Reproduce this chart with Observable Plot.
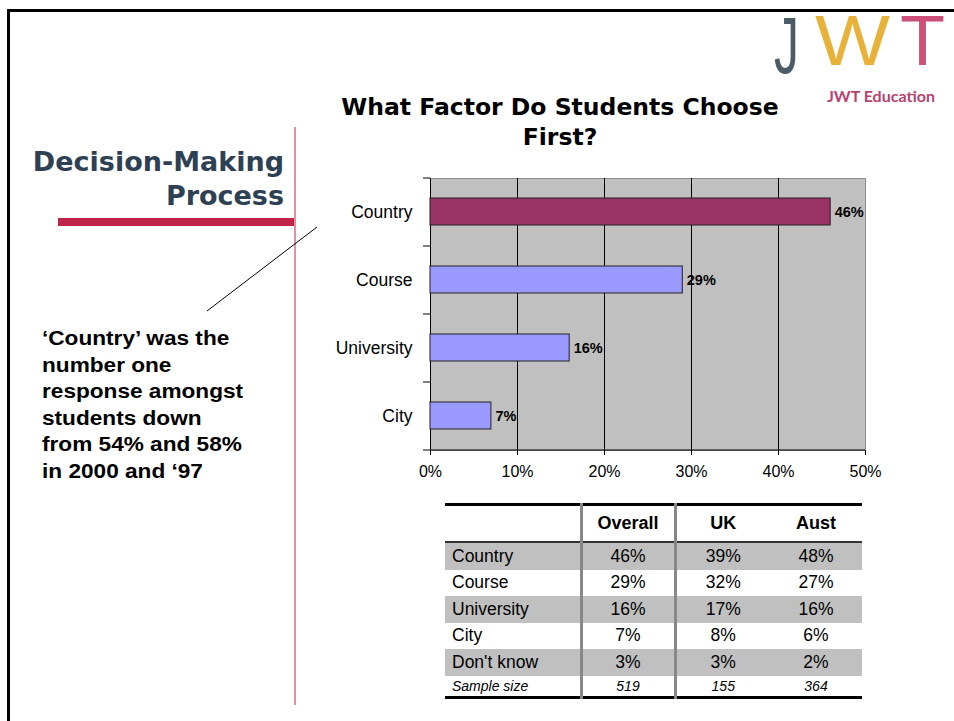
<!DOCTYPE html>
<html>
<head>
<meta charset="utf-8">
<script src="https://cdn.jsdelivr.net/npm/d3@7"></script>
<script src="https://cdn.jsdelivr.net/npm/@observablehq/plot@0.6"></script>
<style>
  html, body { margin: 0; padding: 0; background: #fff; }
  #slide { position: relative; width: 954px; height: 721px; overflow: hidden; background: #fff; font-family: Arial, "Liberation Sans", sans-serif; }
  .abs { position: absolute; }
  #border { left: 7px; top: 9px; width: 960px; height: 720px; border-top: 3px solid #000; border-left: 3px solid #000; }
  #title { left: 330px; top: 92px; width: 460px; text-align: center; font-family: "DejaVu Sans", Verdana, sans-serif; font-weight: bold; font-size: 23.5px; line-height: 30px; color: #000; }
  #section { left: 10px; top: 145px; width: 274px; text-align: right; font-family: "DejaVu Sans", Verdana, sans-serif; font-weight: bold; font-size: 27px; line-height: 34px; color: #2e4053; }
  #redbar { left: 58px; top: 218px; width: 238px; height: 8px; background: #c0234a; }
  #pinkline { left: 294px; top: 127px; width: 2px; height: 578px; background: #e0909f; }
  #note { left: 42px; top: 325px; font-weight: bold; font-size: 19.5px; line-height: 26.6px; color: #000; white-space: nowrap; transform: scaleX(1.16); transform-origin: 0 0; }
  #chart { left: 330px; top: 170px; }
  #logo { left: 770px; top: 0px; }
  #logo text.big { font-family: "Liberation Sans", Arial, sans-serif; }
  #logo text.small { font-family: Lato, "Open Sans", sans-serif; }
  #tbl { left: 445px; top: 503px; border-collapse: collapse; font-size: 17.5px; color: #000; table-layout: fixed; }
  #tbl td, #tbl th { padding: 0; height: 26.5px; }
  #tbl th { font-weight: bold; font-size: 18px; height: 35px; text-align: center; }
  #tbl td.lab { text-align: left; padding-left: 7px; }
  #tbl td.num { text-align: center; }
  #tbl tr.shade td { background: #c0c0c0; }
  #tbl tr.sample td { font-style: italic; font-size: 14px; height: 20px; }
</style>
</head>
<body>
<div id="slide">
  <div id="border" class="abs"></div>
  <svg id="logo" class="abs" width="184" height="112">
    <g transform="translate(4,0) scale(1,1.15)">
      <text class="big" x="0" y="63.9" font-size="70" fill="#4c5b68" textLength="25" lengthAdjust="spacingAndGlyphs">J</text>
    </g>
    <text class="big" x="45" y="65" font-size="70" fill="#e8b23a" textLength="75" lengthAdjust="spacingAndGlyphs">W</text>
    <text class="big" x="130" y="65" font-size="70" fill="#cc4f78" textLength="45" lengthAdjust="spacingAndGlyphs">T</text>
    <text class="small" x="57" y="102" font-size="16" font-weight="700" fill="#b8426e">JWT Education</text>
  </svg>
  <div id="title" class="abs">What Factor Do Students Choose<br>First?</div>
  <div id="section" class="abs">Decision-Making<br>Process</div>
  <div id="redbar" class="abs"></div>
  <div id="pinkline" class="abs"></div>
  <svg class="abs" style="left:0;top:0;" width="954" height="721"><line x1="207" y1="311" x2="317" y2="227" stroke="#000" stroke-width="1"/></svg>
  <div id="note" class="abs">‘Country’ was the<br>number one<br>response amongst<br>students down<br>from 54% and 58%<br>in 2000 and ‘97</div>
  <div id="chart" class="abs"></div>
  <table id="tbl" class="abs"></table>
</div>
<script>
// ---- Chart data ----
const categories = ["Country", "Course", "University", "City"];
const overallShare = [0.46, 0.29, 0.16, 0.07];
const barColors = ["#993366", "#9999ff", "#9999ff", "#9999ff"];
const xTicks = [0, 0.1, 0.2, 0.3, 0.4, 0.5];

// ---- Table data ----
const tableHeaders = ["", "Overall", "UK", "Aust"];
const tableRows = ["Country", "Course", "University", "City", "Don't know"];
const tableOverall = ["46%", "29%", "16%", "7%", "3%"];
const tableUK = ["39%", "32%", "17%", "8%", "3%"];
const tableAust = ["48%", "27%", "16%", "6%", "2%"];
const sampleLabel = "Sample size";
const sampleSizes = ["519", "155", "364"];

const pct = d3.format(".0%");
const data = categories.map((c, i) => ({category: c, value: overallShare[i], color: barColors[i]}));
const last = categories[categories.length - 1];

const chart = Plot.plot({
  width: 565,
  height: 310,
  marginLeft: 100,
  marginTop: 8,
  marginRight: 30,
  marginBottom: 30,
  style: {fontFamily: "Arial, 'Liberation Sans', sans-serif", background: "transparent", color: "#000", overflow: "visible"},
  x: {domain: [0, 0.5]},
  y: {domain: categories, paddingInner: 0.6, paddingOuter: 0.3},
  color: {type: "identity"},
  marks: [
    Plot.frame({fill: "#c0c0c0", stroke: "#8c8c8c"}),
    Plot.ruleX(xTicks.slice(1, -1), {stroke: "#000", strokeWidth: 1}),
    Plot.ruleX([0], {stroke: "#000", strokeWidth: 1}),
    // category boundary ticks on the left axis
    Plot.ruleY(categories, {y: d => d, x1: -0.008, x2: 0, dy: -34, stroke: "#000"}),
    // bottom axis line
    Plot.ruleY([last], {y: d => d, x1: -0.008, x2: 0.5, dy: 34, stroke: "#000"}),
    Plot.barX(data, {x: "value", y: "category", fill: "color", stroke: "#222", strokeWidth: 1}),
    Plot.text(data, {x: "value", y: "category", text: d => pct(d.value), textAnchor: "start", dx: 4, fontWeight: "bold", fontSize: 14.5, fill: "#000"}),
    Plot.axisX({ticks: xTicks, tickFormat: pct, tickSize: 5, tickPadding: 10, fontSize: 16, label: null, stroke: "#000"}),
    Plot.axisY({tickSize: 0, tickPadding: 18, fontSize: 17.5, label: null})
  ]
});
document.getElementById("chart").appendChild(chart);

// ---- Table ----
const tbl = d3.select("#tbl");
const colWidths = [136, 94, 95, 92];
const cg = tbl.append("colgroup");
colWidths.forEach(w => cg.append("col").style("width", w + "px"));
tbl.style("width", d3.sum(colWidths) + "px");
const thead = tbl.append("tr").style("border-top", "3px solid #000").style("border-bottom", "2px solid #333");
tableHeaders.forEach((h, j) => {
  thead.append("th").text(h)
    .style("border-left", j === 1 || j === 2 ? "3px solid #888" : null);
});
tableRows.forEach((r, i) => {
  const tr = tbl.append("tr").attr("class", i % 2 === 0 ? "shade" : null);
  tr.append("td").attr("class", "lab").text(r);
  [tableOverall[i], tableUK[i], tableAust[i]].forEach((v, j) => {
    tr.append("td").attr("class", "num").text(v).style("border-left", j < 2 ? "3px solid #888" : null);
  });
});
const sr = tbl.append("tr").attr("class", "sample").style("border-bottom", "3px solid #000");
sr.append("td").attr("class", "lab").text(sampleLabel);
sampleSizes.forEach((v, j) => {
  sr.append("td").attr("class", "num").text(v).style("border-left", j < 2 ? "3px solid #888" : null);
});
</script>
</body>
</html>
